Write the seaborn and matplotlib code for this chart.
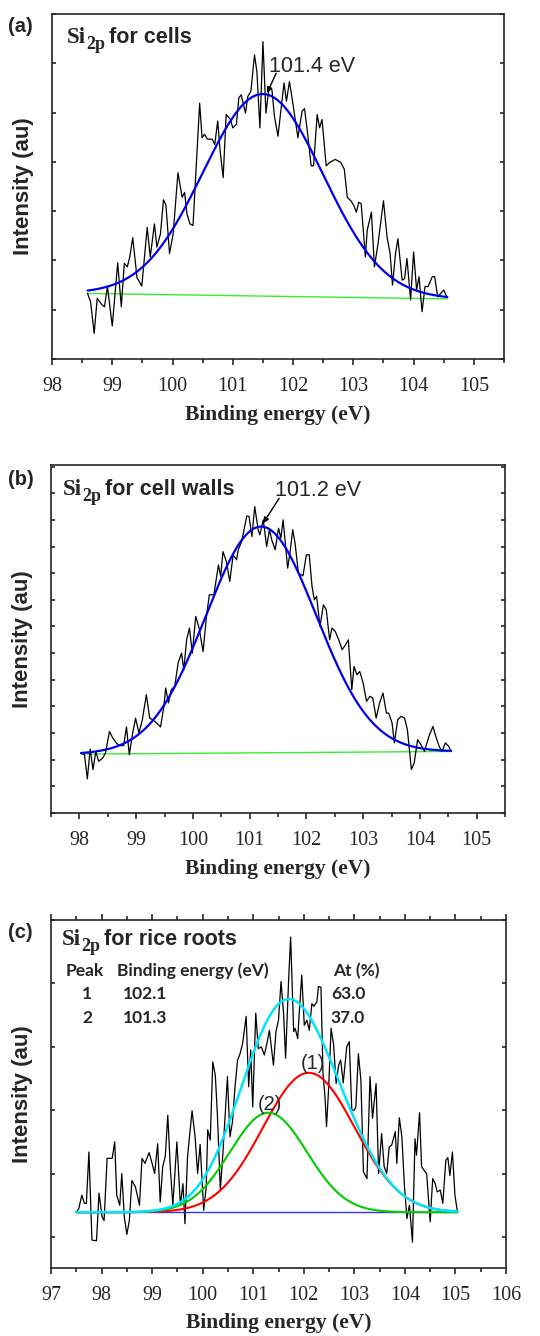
import numpy as np
import matplotlib
matplotlib.use("Agg")
import matplotlib.pyplot as plt
import seaborn as sns

sns.set_style("ticks")
plt.rcParams['font.family'] = ['Liberation Serif', 'DejaVu Serif']
plt.rcParams['axes.linewidth'] = 1.2

SERIF = ['Liberation Serif', 'DejaVu Serif']
SANS = ['Liberation Sans', 'DejaVu Sans']

# ---- (a) Si2p for cells : raw spectrum ----
a_energy = [98.59, 98.64, 98.70, 98.75, 98.83, 98.87, 98.92, 99.00, 99.09, 99.15,
            99.20, 99.25, 99.29, 99.34, 99.41, 99.49, 99.58, 99.63, 99.70, 99.74,
            99.80, 99.85, 99.89, 99.95, 100.01, 100.09, 100.16, 100.20, 100.24, 100.29,
            100.34, 100.45, 100.49, 100.53, 100.58, 100.66, 100.70, 100.75, 100.79, 100.84,
            100.89, 100.96, 101.00, 101.06, 101.10, 101.14, 101.21, 101.25, 101.30, 101.36,
            101.40, 101.45, 101.50, 101.55, 101.60, 101.65, 101.69, 101.75, 101.79, 101.85,
            101.89, 101.94, 102.00, 102.08, 102.15, 102.19, 102.24, 102.30, 102.34, 102.40,
            102.44, 102.48, 102.55, 102.61, 102.70, 102.79, 102.85, 102.90, 102.96, 103.01,
            103.05, 103.09, 103.13, 103.20, 103.23, 103.30, 103.35, 103.41, 103.50, 103.56,
            103.61, 103.65, 103.70, 103.74, 103.81, 103.85, 103.89, 103.95, 104.00, 104.05,
            104.09, 104.14, 104.19, 104.24, 104.31, 104.35, 104.40, 104.45, 104.50, 104.55]
a_counts = [1.33, 1.16, 0.52, 1.23, 1.10, 1.06, 1.47, 0.67, 1.95, 1.06,
            1.94, 1.87, 2.07, 2.46, 1.65, 1.48, 2.67, 2.07, 2.74, 2.27,
            2.54, 3.23, 3.13, 2.14, 2.54, 3.78, 3.28, 3.38, 2.94, 2.74,
            2.71, 5.19, 4.49, 4.56, 4.46, 4.46, 4.35, 4.83, 4.22, 3.68,
            4.96, 4.86, 4.69, 4.76, 5.30, 5.36, 4.99, 5.33, 5.43, 6.17,
            5.83, 4.69, 6.44, 4.99, 5.50, 5.46, 4.93, 4.52, 4.96, 5.60,
            5.23, 5.63, 5.16, 4.49, 5.03, 5.08, 4.59, 3.92, 3.92, 4.96,
            4.69, 4.86, 3.92, 3.99, 4.05, 3.99, 3.85, 3.28, 3.21, 3.11,
            2.98, 3.18, 3.15, 2.07, 2.61, 2.98, 1.87, 2.34, 3.21, 2.47,
            2.14, 1.50, 2.14, 2.44, 1.60, 1.63, 2.04, 1.20, 2.17, 1.40,
            1.67, 0.96, 1.47, 1.47, 1.67, 1.67, 1.26, 1.33, 1.40, 1.26]
a_fit = dict(center=101.50, fwhm=2.35, height=4.10)
a_base = ([98.59, 104.56], [1.33, 1.22])

# ---- (b) Si2p for cell walls ----
b_energy = [98.03, 98.09, 98.14, 98.19, 98.24, 98.29, 98.34, 98.41, 98.46, 98.53,
            98.59, 98.66, 98.72, 98.78, 98.83, 98.88, 98.93, 98.99, 99.05, 99.11,
            99.18, 99.24, 99.29, 99.36, 99.43, 99.49, 99.52, 99.57, 99.62, 99.68,
            99.74, 99.80, 99.84, 99.89, 99.94, 99.99, 100.05, 100.11, 100.18, 100.24,
            100.29, 100.37, 100.45, 100.49, 100.53, 100.59, 100.65, 100.71, 100.77, 100.80,
            100.86, 100.95, 100.99, 101.04, 101.09, 101.15, 101.18, 101.24, 101.30, 101.35,
            101.39, 101.45, 101.51, 101.55, 101.59, 101.67, 101.71, 101.76, 101.80, 101.86,
            101.94, 102.00, 102.05, 102.10, 102.14, 102.18, 102.24, 102.30, 102.35, 102.41,
            102.45, 102.51, 102.57, 102.63, 102.69, 102.74, 102.80, 102.84, 102.89, 102.94,
            103.00, 103.06, 103.12, 103.17, 103.23, 103.29, 103.35, 103.41, 103.45, 103.51,
            103.55, 103.61, 103.67, 103.73, 103.78, 103.85, 103.90, 103.96, 104.02, 104.08,
            104.16, 104.23, 104.28, 104.34, 104.39, 104.45, 104.51, 104.55]
b_counts = [2.25, 2.19, 1.28, 2.40, 1.63, 2.31, 1.94, 2.06, 2.25, 3.06,
            2.81, 2.60, 2.53, 2.53, 3.23, 2.19, 2.88, 3.56, 3.00, 3.50,
            4.44, 3.56, 3.50, 3.38, 3.23, 4.00, 4.69, 4.13, 4.63, 4.75,
            5.63, 6.00, 5.38, 6.50, 6.94, 6.00, 7.38, 6.94, 6.06, 7.38,
            8.19, 8.19, 9.31, 8.88, 9.81, 9.44, 8.69, 9.69, 9.50, 9.88,
            10.19, 11.15, 11.13, 10.38, 11.50, 10.63, 10.44, 11.00, 10.00, 10.63,
            10.25, 9.88, 10.69, 10.31, 11.00, 9.19, 9.75, 10.63, 10.13, 9.00,
            8.90, 9.69, 9.69, 8.50, 8.00, 8.13, 7.00, 7.81, 7.63, 6.50,
            6.94, 6.81, 6.50, 6.13, 6.31, 6.50, 4.63, 5.50, 5.19, 5.31,
            4.88, 4.19, 4.38, 4.31, 3.56, 4.13, 4.50, 3.75, 3.75, 3.38,
            2.63, 3.50, 3.63, 3.56, 3.13, 1.63, 1.88, 2.75, 2.56, 2.31,
            2.88, 3.25, 2.88, 2.50, 2.31, 2.63, 2.50, 2.31]
b_fit = dict(center=101.20, fwhm=2.29, height=8.49)
b_base = ([98.03, 104.55], [2.21, 2.31])

# ---- (c) Si2p for rice roots ----
c_energy = [97.50, 97.55, 97.61, 97.66, 97.70, 97.75, 97.81, 97.90, 97.95, 98.01,
            98.05, 98.11, 98.17, 98.21, 98.26, 98.30, 98.36, 98.40, 98.45, 98.50,
            98.55, 98.60, 98.67, 98.75, 98.80, 98.86, 98.94, 99.00, 99.05, 99.11,
            99.16, 99.21, 99.26, 99.31, 99.36, 99.41, 99.49, 99.56, 99.61, 99.65,
            99.70, 99.79, 99.85, 99.90, 99.95, 100.02, 100.07, 100.10, 100.15, 100.20,
            100.25, 100.29, 100.35, 100.40, 100.49, 100.54, 100.59, 100.64, 100.69, 100.74,
            100.79, 100.86, 100.91, 100.95, 100.99, 101.05, 101.10, 101.16, 101.22, 101.27,
            101.32, 101.40, 101.45, 101.50, 101.55, 101.60, 101.64, 101.70, 101.74, 101.80,
            101.83, 101.88, 101.91, 101.96, 102.01, 102.06, 102.11, 102.16, 102.20, 102.26,
            102.29, 102.34, 102.38, 102.42, 102.45, 102.49, 102.54, 102.59, 102.64, 102.69,
            102.73, 102.78, 102.85, 102.90, 102.95, 103.00, 103.03, 103.08, 103.13, 103.18,
            103.25, 103.31, 103.36, 103.43, 103.48, 103.54, 103.59, 103.64, 103.69, 103.74,
            103.81, 103.84, 103.89, 103.94, 103.99, 104.04, 104.09, 104.15, 104.20, 104.23,
            104.29, 104.33, 104.40, 104.43, 104.50, 104.55, 104.60, 104.64, 104.70, 104.75,
            104.81, 104.85, 104.89, 104.94, 104.99, 105.04]
c_counts = [1.39, 1.45, 1.66, 1.53, 1.53, 2.34, 0.95, 0.94, 1.69, 1.32,
            1.26, 2.24, 2.24, 2.24, 2.50, 1.66, 1.50, 2.00, 1.32, 1.04,
            1.26, 1.89, 1.79, 1.50, 2.24, 2.16, 2.33, 2.16, 2.00, 2.47,
            1.55, 2.11, 2.27, 2.92, 2.09, 1.50, 2.50, 1.50, 1.84, 1.21,
            2.26, 2.99, 2.58, 2.00, 2.46, 1.42, 1.79, 2.69, 2.53, 3.76,
            3.55, 2.95, 1.74, 2.32, 3.53, 2.58, 2.82, 3.37, 3.79, 3.89,
            4.05, 4.48, 3.37, 3.95, 3.05, 4.53, 3.97, 4.00, 3.87, 4.05,
            4.26, 3.71, 4.24, 4.42, 5.03, 4.53, 3.82, 5.05, 5.73, 4.24,
            4.29, 4.13, 4.53, 5.13, 4.34, 4.42, 4.26, 4.68, 4.64, 4.71,
            4.95, 4.94, 3.58, 3.21, 2.74, 3.32, 4.29, 4.03, 3.42, 3.71,
            3.79, 3.43, 4.00, 4.08, 3.00, 3.00, 3.05, 3.89, 3.47, 2.03,
            1.92, 3.53, 2.87, 3.42, 2.00, 2.63, 2.11, 2.00, 2.42, 2.45,
            2.66, 2.16, 2.88, 2.58, 1.82, 1.29, 1.50, 0.92, 2.55, 2.29,
            2.96, 2.11, 2.03, 2.00, 1.24, 1.92, 1.84, 1.71, 1.74, 1.53,
            2.21, 2.25, 1.97, 2.34, 1.66, 1.39]
peak_ids = ['1', '2']
peak_be = [102.1, 101.3]
peak_at = [63.0, 37.0]
peak_fwhm = [2.14, 1.79]
peak_height = [2.20, 1.57]
peak_colors = ['#ff0000', '#00cc00']
c_base = ([97.50, 105.04], [1.39, 1.39])


def gauss(x, center, fwhm, height):
    s = fwhm / 2.3548
    return height * np.exp(-(x - center) ** 2 / (2 * s * s))


def style_axes(ax, xlim, xmajor, ylim, yticks, top_ticks=False):
    ax.set_xlim(*xlim)
    ax.set_ylim(*ylim)
    ax.set_xticks(xmajor)
    ax.set_xticks(np.arange(xlim[0], xlim[1] + 0.01, 0.5), minor=True)
    ax.set_yticks(yticks)
    ax.set_yticklabels([])
    for s in ax.spines.values():
        s.set_visible(True)
        s.set_linewidth(1.2)
    ax.tick_params(axis='x', which='major', direction='out', length=4, width=1.2,
                   labelsize=14.5, pad=9, top=top_ticks)
    ax.tick_params(axis='x', which='minor', direction='out', length=3, width=1.2,
                   top=top_ticks)
    ax.tick_params(axis='y', which='major', direction='in', length=3, width=1.2,
                   left=True, right=True)
    ax.set_xticklabels([str(int(t)) for t in xmajor], family=SERIF)


def labels(ax, title, title_xy, xlab_y):
    ax.set_xlabel('Binding energy (eV)', fontsize=15.5, fontweight='bold', family=SERIF)
    ax.xaxis.set_label_coords(0.5, xlab_y)
    ax.set_ylabel('Intensity (au)', fontsize=16, fontweight='bold', family=SANS)
    ax.yaxis.set_label_coords(-0.04, 0.5)
    # "Si" + subscript "2p" in serif, rest in sans
    t1 = ax.text(title_xy[0], title_xy[1], 'Si', transform=ax.transAxes, fontsize=16.5,
                 fontweight='bold', family=SERIF, va='baseline', ha='left')
    t2 = ax.annotate('2p', xy=(1, 0), xycoords=t1, xytext=(0.5, -0.8),
                     textcoords='offset points', fontsize=13, fontweight='bold',
                     family=SERIF, va='baseline', ha='left')
    ax.annotate(title, xy=(1, 0), xycoords=t2, xytext=(2.5, 7.1),
                textcoords='offset points', fontsize=15.5, fontweight='bold',
                family=SANS, va='baseline', ha='left')


fig = plt.figure(figsize=(5.4, 13.36), dpi=100)
ax_a = fig.add_axes([52 / 540, 1 - 359 / 1336, 452 / 540, 345 / 1336])
ax_b = fig.add_axes([51 / 540, 1 - 813 / 1336, 454 / 540, 348 / 1336])
ax_c = fig.add_axes([51 / 540, 1 - 1268 / 1336, 455 / 540, 348 / 1336])

arrow = dict(arrowstyle='-|>', color='black', lw=1.0, mutation_scale=8,
             shrinkA=0, shrinkB=0)

# panel (a)
xa = np.linspace(a_base[0][0], a_base[0][1], 300)
ba = np.interp(xa, *a_base)
sns.lineplot(x=a_base[0], y=a_base[1], ax=ax_a, color='#33ee33', lw=1.0)
sns.lineplot(x=a_energy, y=a_counts, ax=ax_a, color='black', lw=0.9, sort=False, estimator=None)
sns.lineplot(x=xa, y=ba + gauss(xa, **a_fit), ax=ax_a, color='#0000ee', lw=1.6, sort=False, estimator=None)
ax_a.annotate('', xy=(101.57, 5.40), xytext=(101.72, 5.80), arrowprops=arrow)
ax_a.text(101.60, 5.93, '101.4 eV', fontsize=15.5, family=SANS, va='center', ha='left')
style_axes(ax_a, (98, 105.5), range(98, 106), (0, 7), range(0, 8))
labels(ax_a, 'for cells', (0.033, 0.917), -0.132)

# panel (b)
xb = np.linspace(b_base[0][0], b_base[0][1], 300)
bb = np.interp(xb, *b_base)
sns.lineplot(x=b_base[0], y=b_base[1], ax=ax_b, color='#33ee33', lw=1.0)
sns.lineplot(x=b_energy, y=b_counts, ax=ax_b, color='black', lw=0.9, sort=False, estimator=None)
sns.lineplot(x=xb, y=bb + gauss(xb, **b_fit), ax=ax_b, color='#0000ee', lw=1.6, sort=False, estimator=None)
ax_b.annotate('', xy=(101.24, 10.88), xytext=(101.52, 11.81), arrowprops=arrow)
ax_b.text(101.45, 12.10, '101.2 eV', fontsize=15.5, family=SANS, va='center', ha='left')
style_axes(ax_b, (97.5, 105.5), range(98, 106), (0, 13.06), range(0, 14))
labels(ax_b, 'for cell walls', (0.026, 0.914), -0.131)

# panel (c)
xc = np.linspace(c_base[0][0], c_base[0][1], 300)
bc = np.interp(xc, *c_base)
sns.lineplot(x=c_energy, y=c_counts, ax=ax_c, color='black', lw=0.9, sort=False, estimator=None)
sns.lineplot(x=c_base[0], y=c_base[1], ax=ax_c, color='#3333ff', lw=1.0)
total = bc.copy()
for be, fw, h, col in zip(peak_be, peak_fwhm, peak_height, peak_colors):
    comp = gauss(xc, be, fw, h)
    total = total + comp
    sns.lineplot(x=xc, y=bc + comp, ax=ax_c, color=col, lw=1.5, sort=False, estimator=None)
sns.lineplot(x=xc, y=total, ax=ax_c, color='#00e5ff', lw=1.8, sort=False, estimator=None)
ax_c.text(102.19, 3.74, '(1)', fontsize=14.5, family=SANS, ha='center', va='center')
ax_c.text(101.33, 3.09, '(2)', fontsize=14.5, family=SANS, ha='center', va='center')
style_axes(ax_c, (97, 106), range(97, 107), (0.51, 6.0), range(1, 7), top_ticks=True)
labels(ax_c, 'for rice roots', (0.024, 0.928), -0.128)

TAB = ['Lato', 'DejaVu Sans']
tk = dict(transform=ax_c.transAxes, fontsize=12.5, fontweight='bold', family=TAB, va='baseline')
ax_c.text(0.033, 0.839, 'Peak', ha='left', **tk)
ax_c.text(0.145, 0.839, 'Binding energy (eV)', ha='left', **tk)
ax_c.text(0.620, 0.839, 'At (%)', ha='left', **tk)
for i, rowy in enumerate([0.772, 0.705]):
    ax_c.text(0.079, rowy, peak_ids[i], ha='center', **tk)
    ax_c.text(0.158, rowy, f'{peak_be[i]:.1f}', ha='left', **tk)
    ax_c.text(0.615, rowy, f'{peak_at[i]:.1f}', ha='left', **tk)

# panel letters
for letter, yc in [('(a)', 1 - 26.7 / 1336), ('(b)', 1 - 480 / 1336), ('(c)', 1 - 932.7 / 1336)]:
    fig.text(8 / 540, yc, letter, fontsize=14.5, fontweight='bold', family=SANS,
             ha='left', va='center')

fig.savefig('out.png', dpi=100)
